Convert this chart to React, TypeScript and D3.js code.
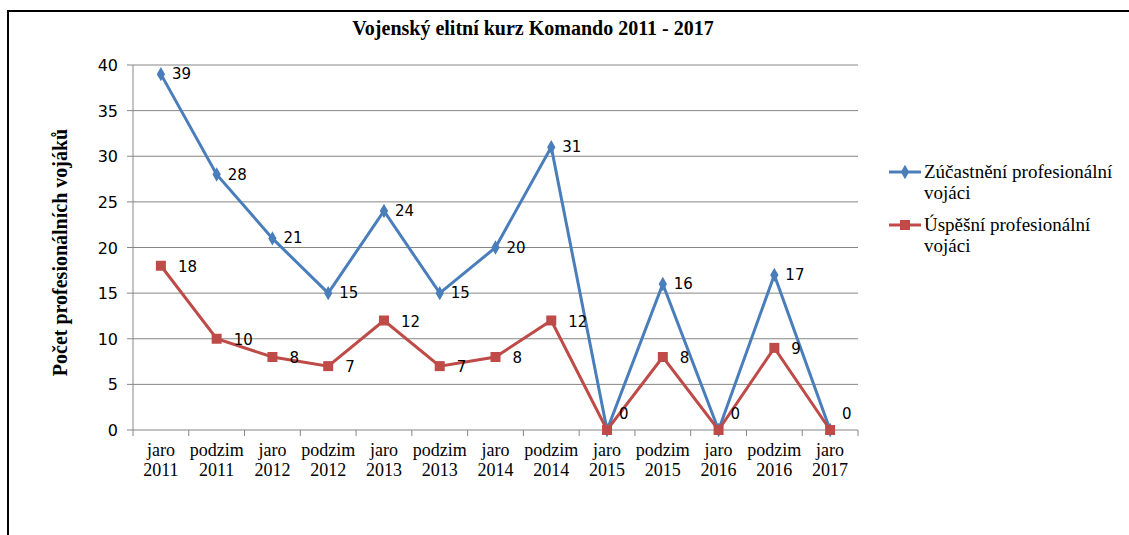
import * as d3 from "d3";
import React from "react";

const categories = [
  ["jaro", "2011"], ["podzim", "2011"], ["jaro", "2012"], ["podzim", "2012"],
  ["jaro", "2013"], ["podzim", "2013"], ["jaro", "2014"], ["podzim", "2014"],
  ["jaro", "2015"], ["podzim", "2015"], ["jaro", "2016"], ["podzim", "2016"],
  ["jaro", "2017"],
];
const ucastneni = [39, 28, 21, 15, 24, 15, 20, 31, 0, 16, 0, 17, 0];
const uspesni = [18, 10, 8, 7, 12, 7, 8, 12, 0, 8, 0, 9, 0];
const yTicks = [0, 5, 10, 15, 20, 25, 30, 35, 40];

const BLUE = "#4a7ebb";
const RED = "#be4b48";
const serif = "'Liberation Serif', 'Times New Roman', serif";
const sans = "'DejaVu Sans', Tahoma, sans-serif";

const App = () => {
  const width = 1129, height = 535;
  const left = 133, right = 858, top = 65, bottom = 430;

  const x = d3.scaleBand<number>()
    .domain(d3.range(categories.length))
    .range([left, right]);
  const y = d3.scaleLinear().domain([0, 40]).range([bottom, top]);
  const cx = (i: number) => (x(i) as number) + x.bandwidth() / 2;

  const line = d3.line<number>()
    .x((d, i) => cx(i))
    .y((d) => y(d));

  const diamond = d3.symbol().type(d3.symbolDiamond).size(60)() as string;

  return (
    <svg width={width} height={height} style={{ position: "absolute", left: 0, top: 0 }}>
      <rect x={0} y={0} width={width} height={height} fill="#fff" />
      <rect x={8} y={11} width={1140} height={560} fill="#fff" stroke="#000" strokeWidth={2} />

      <text x={533} y={35} textAnchor="middle" fontFamily={serif} fontWeight="bold" fontSize={20}>
        Vojenský elitní kurz Komando 2011 - 2017
      </text>

      {yTicks.map((t) => (
        <g key={t}>
          <line x1={left - 6} x2={right} y1={y(t)} y2={y(t)} stroke="#868686" strokeWidth={1} />
          <text x={left - 15} y={y(t) + 6} textAnchor="end" fontFamily={sans} fontSize={16} fill="#000">
            {t}
          </text>
        </g>
      ))}
      <line x1={left} x2={left} y1={top} y2={bottom} stroke="#868686" />
      {d3.range(categories.length + 1).map((i) => {
        const xx = i < categories.length ? (x(i) as number) : right;
        return <line key={i} x1={xx} x2={xx} y1={bottom} y2={bottom + 6} stroke="#868686" />;
      })}
      {categories.map((c, i) => (
        <text key={i} x={cx(i)} y={bottom + 26} textAnchor="middle" fontFamily={serif} fontSize={18}>
          <tspan x={cx(i)}>{c[0]}</tspan>
          <tspan x={cx(i)} dy={20}>{c[1]}</tspan>
        </text>
      ))}

      <text
        transform={`translate(67, ${(top + bottom) / 2 + 5}) rotate(-90)`}
        textAnchor="middle"
        fontFamily={serif}
        fontWeight="bold"
        fontSize={20}
      >
        Počet profesionálních vojáků
      </text>

      <path d={line(ucastneni) as string} fill="none" stroke={BLUE} strokeWidth={3} />
      <path d={line(uspesni) as string} fill="none" stroke={RED} strokeWidth={3} />

      {ucastneni.map((v, i) => (
        <path key={i} d={diamond} transform={`translate(${cx(i)},${y(v)})`} fill={BLUE} />
      ))}
      {uspesni.map((v, i) => (
        <rect key={i} x={cx(i) - 5} y={y(v) - 5} width={10} height={10} fill={RED} />
      ))}

      {ucastneni.map((v, i) =>
        v === 0 ? null : (
          <text key={i} x={cx(i) + 11} y={y(v) + 5} fontFamily={sans} fontSize={15}>
            {v}
          </text>
        )
      )}
      {uspesni.map((v, i) => (
        <text
          key={i}
          x={cx(i) + (v === 0 ? 12 : 17)}
          y={y(v) + (v === 0 ? -11 : 6)}
          fontFamily={sans}
          fontSize={15}
        >
          {v}
        </text>
      ))}

      <g fontFamily={serif} fontSize={19}>
        <line x1={889} x2={921} y1={172} y2={172} stroke={BLUE} strokeWidth={3} />
        <path d={diamond} transform="translate(905,172)" fill={BLUE} />
        <text x={924} y={178}>Zúčastnění profesionální</text>
        <text x={924} y={199}>vojáci</text>
        <line x1={889} x2={921} y1={225} y2={225} stroke={RED} strokeWidth={3} />
        <rect x={900} y={220} width={10} height={10} fill={RED} />
        <text x={924} y={231}>Úspěšní profesionální</text>
        <text x={924} y={252}>vojáci</text>
      </g>
    </svg>
  );
};

export default App;
